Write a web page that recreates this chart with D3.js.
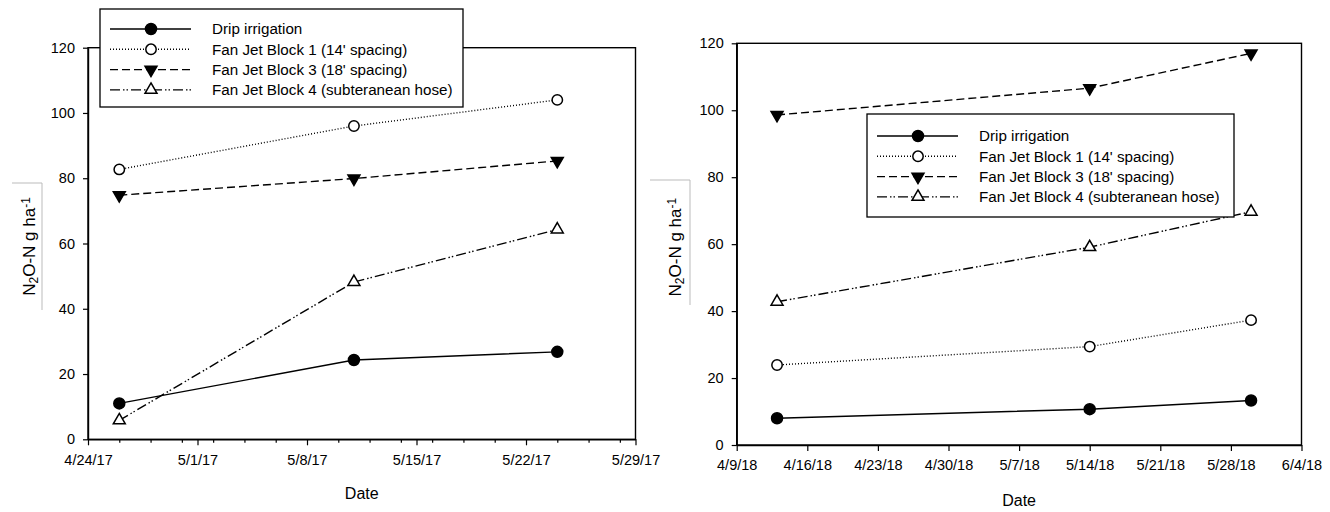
<!DOCTYPE html>
<html>
<head>
<meta charset="utf-8">
<script src="https://cdn.jsdelivr.net/npm/d3@7"></script>
<style>
  body { margin: 0; background: #fff; }
  text { font-family: Arial, "Liberation Sans", sans-serif; fill: #000; }
</style>
</head>
<body>
<div id="chart"></div>
<script>
// values
const seriesNames = [
  "Drip irrigation",
  "Fan Jet Block 1 (14' spacing)",
  "Fan Jet Block 3 (18' spacing)",
  "Fan Jet Block 4 (subteranean hose)"
];
const yTicks = [0, 20, 40, 60, 80, 100, 120];

const dates2017 = ["2017-04-26", "2017-05-11", "2017-05-24"];
const drip2017 = [11.0, 24.3, 26.8];
const block1_2017 = [82.7, 96.0, 104.0];
const block3_2017 = [74.8, 79.9, 85.3];
const block4_2017 = [5.8, 48.2, 64.3];

const dates2018 = ["2018-04-13", "2018-05-14", "2018-05-30"];
const drip2018 = [8.0, 10.7, 13.3];
const block1_2018 = [23.9, 29.4, 37.3];
const block3_2018 = [98.6, 106.6, 117.0];
const block4_2018 = [42.8, 59.1, 69.7];

const W = 1330, H = 512;
const parse = d3.utcParse("%Y-%m-%d");
const fmt = d3.utcFormat("%-m/%-d/%y");

// line + marker style per series
const styles = [
  { dash: null, symbol: d3.symbolCircle, size: 95, fill: "#000", rot: 0 },
  { dash: "1,2", symbol: d3.symbolCircle, size: 85, fill: "#fff", rot: 0 },
  { dash: "8,4", symbol: d3.symbolTriangle, size: 62, fill: "#000", rot: 180 },
  { dash: "10,3,1.5,2,1.5,3", symbol: d3.symbolTriangle, size: 62, fill: "#fff", rot: 0 }
];

const svg = d3.select("#chart").append("svg")
  .attr("width", W).attr("height", H);

function panel(p) {
  const x = d3.scaleUtc().domain([parse(p.x0), parse(p.x1)]).range([p.left, p.right]);
  const y = d3.scaleLinear().domain([0, 120]).range([p.bottom, p.top]);
  const g = svg.append("g");

  const majors = d3.utcDay.range(x.domain()[0], d3.utcDay.offset(x.domain()[1], 1), 7);

  // minor ticks every 2 days (2017 panel only)
  if (p.minor) {
    const majorSet = new Set(majors.map(d => +d));
    const minors = d3.utcDay.range(x.domain()[0], x.domain()[1], 2).filter(d => !majorSet.has(+d));
    g.append("g")
      .attr("transform", `translate(0,${p.bottom})`)
      .call(d3.axisBottom(x).tickValues(minors).tickSize(3.5).tickFormat("").tickSizeOuter(0))
      .call(a => a.select(".domain").remove())
      .selectAll("line").attr("stroke-width", 1.2);
  }

  const xa = g.append("g")
    .attr("transform", `translate(0,${p.bottom})`)
    .call(d3.axisBottom(x).tickValues(majors).tickFormat(fmt).tickSize(6).tickPadding(9).tickSizeOuter(0));
  xa.selectAll("text").style("font-size", "14.5px");

  const ya = g.append("g")
    .attr("transform", `translate(${p.left},0)`)
    .call(d3.axisLeft(y).tickValues(yTicks).tickSize(5).tickPadding(8).tickSizeOuter(0));
  ya.selectAll("text").style("font-size", "14.5px");

  g.selectAll(".domain").attr("stroke-width", 1.4);
  g.selectAll(".tick line").attr("stroke-width", 1.2);

  // frame
  g.append("rect")
    .attr("x", p.left).attr("y", p.top)
    .attr("width", p.right - p.left).attr("height", p.bottom - p.top)
    .attr("fill", "none").attr("stroke", "#000").attr("stroke-width", 1.4);

  const dates = p.dates.map(parse);
  const line = d3.line().x(d => x(d[0])).y(d => y(d[1]));

  p.series.forEach((vals, i) => {
    const st = styles[i];
    const pts = vals.map((v, j) => [dates[j], v]);
    g.append("path")
      .attr("d", line(pts))
      .attr("fill", "none").attr("stroke", "#000").attr("stroke-width", 1.4)
      .attr("stroke-dasharray", st.dash);
    g.selectAll(null).data(pts).enter().append("path")
      .attr("d", d3.symbol().type(st.symbol).size(st.size))
      .attr("transform", d => `translate(${x(d[0])},${y(d[1])}) rotate(${st.rot})`)
      .attr("fill", st.fill).attr("stroke", "#000").attr("stroke-width", 1.5);
  });

  // legend
  const L = p.legend;
  const lg = g.append("g");
  lg.append("rect")
    .attr("x", L.x).attr("y", L.y).attr("width", L.w).attr("height", L.h)
    .attr("fill", "#fff").attr("stroke", "#000").attr("stroke-width", 1.3);
  seriesNames.forEach((name, i) => {
    const st = styles[i];
    const cy = L.y + L.first + i * 20.3;
    lg.append("line")
      .attr("x1", L.x + 10).attr("x2", L.x + 91).attr("y1", cy).attr("y2", cy)
      .attr("stroke", "#000").attr("stroke-width", 1.4)
      .attr("stroke-dasharray", st.dash);
    lg.append("path")
      .attr("d", d3.symbol().type(st.symbol).size(st.size))
      .attr("transform", `translate(${L.x + 51},${cy}) rotate(${st.rot})`)
      .attr("fill", st.fill).attr("stroke", "#000").attr("stroke-width", 1.5);
    lg.append("text")
      .attr("x", L.x + 112).attr("y", cy).attr("dy", "0.35em")
      .style("font-size", "15.2px")
      .text(name);
  });

  // axis titles
  svg.append("text")
    .attr("x", (p.left + p.right) / 2).attr("y", p.dateY)
    .attr("text-anchor", "middle").style("font-size", "16px")
    .text("Date");

  const cy = (p.top + p.bottom) / 2 + 3;
  svg.append("path")
    .attr("d", `M${p.brX0},${p.brTop}H${p.brX1}V${p.brBot}`)
    .attr("fill", "none").attr("stroke", "#bbb").attr("stroke-width", 1);
  const yl = svg.append("text")
    .attr("transform", `translate(${p.labX},${cy}) rotate(-90)`)
    .attr("text-anchor", "middle").style("font-size", "17px");
  yl.append("tspan").text("N");
  yl.append("tspan").attr("baseline-shift", "-25%").style("font-size", "12px").text("2");
  yl.append("tspan").text("O-N g ha");
  yl.append("tspan").attr("baseline-shift", "45%").style("font-size", "12px").text("-1");
}

panel({
  x0: "2017-04-24", x1: "2017-05-29", minor: true,
  left: 88, right: 635.5, top: 47.7, bottom: 439.3,
  dates: dates2017,
  series: [drip2017, block1_2017, block3_2017, block4_2017],
  legend: { x: 100, y: 9, w: 363, h: 98, first: 20 },
  dateY: 499, labX: 35, brX0: 12, brX1: 42, brTop: 183, brBot: 310
});

panel({
  x0: "2018-04-09", x1: "2018-06-04", minor: false,
  left: 736.7, right: 1301.5, top: 43.3, bottom: 445,
  dates: dates2018,
  series: [drip2018, block1_2018, block3_2018, block4_2018],
  legend: { x: 867, y: 114, w: 367, h: 103, first: 22 },
  dateY: 506, labX: 681, brX0: 650, brX1: 690, brTop: 180, brBot: 305
});
</script>
</body>
</html>
